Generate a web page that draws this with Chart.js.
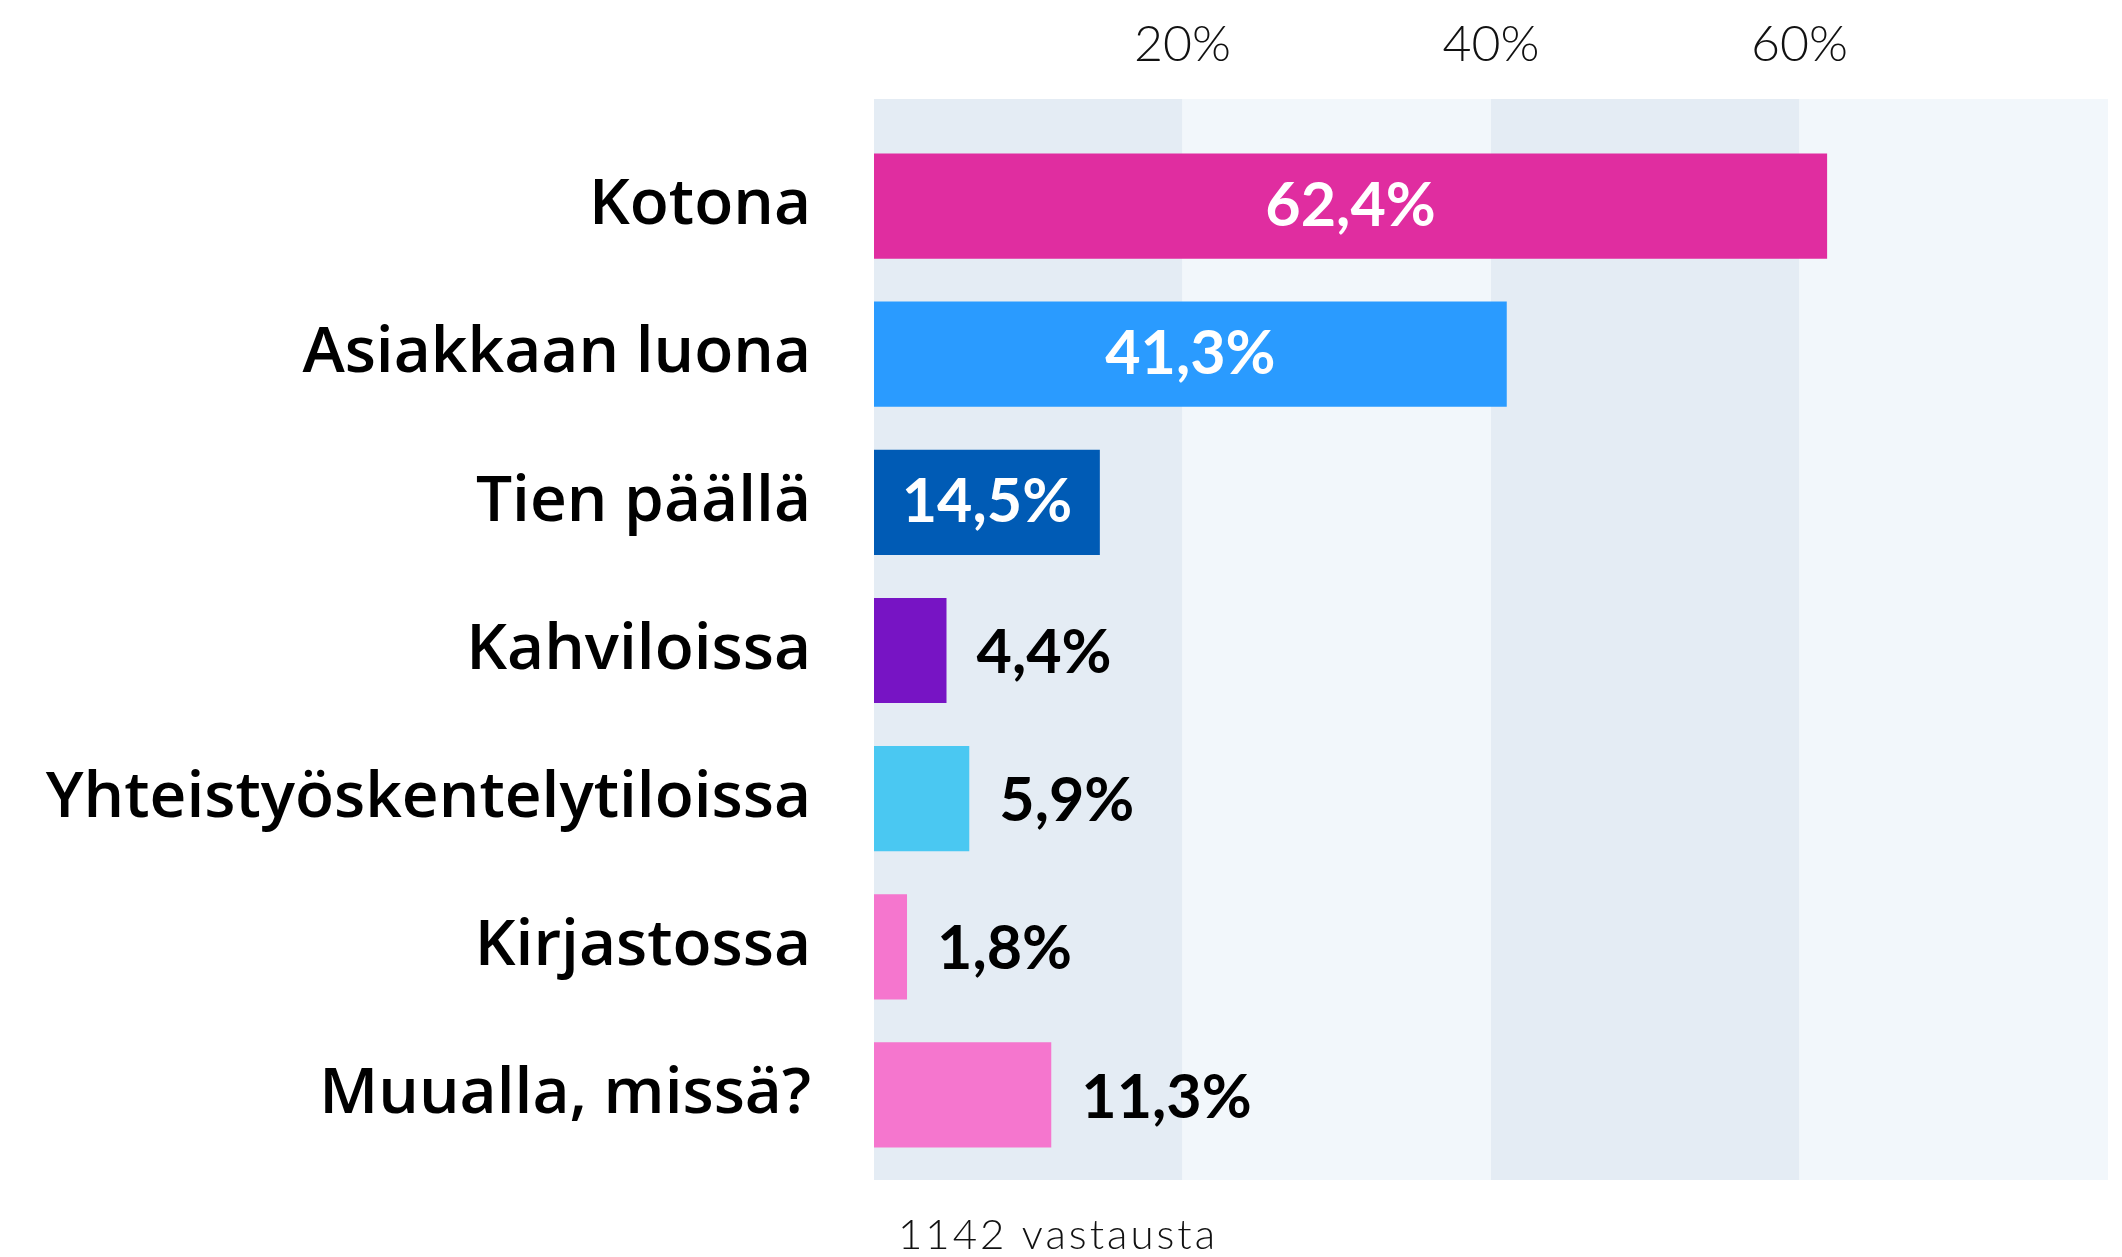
<!DOCTYPE html>
<html>
<head>
<meta charset="utf-8">
<script src="https://cdn.jsdelivr.net/npm/chart.js@4/dist/chart.umd.min.js"></script>
<style>
  html, body { margin: 0; padding: 0; background: #fff; }
  canvas { display: block; }
</style>
</head>
<body>
<canvas id="chart" width="2122" height="1257"></canvas>
<script>
// data
const categories = ['Kotona', 'Asiakkaan luona', 'Tien päällä', 'Kahviloissa', 'Yhteistyöskentelytiloissa', 'Kirjastossa', 'Muualla, missä?'];
const shares = [62.4, 41.3, 14.5, 4.4, 5.9, 1.8, 11.3];
const tickValues = [20, 40, 60];
const axisMax = 80;
const footnote = '1142 vastausta';

// palkit on piirretty alkuperäisessä hieman eri mittakaavassa kuin taustan raidat
const barAxisMin = -0.375;
const barAxisMax = 80.9;

const barColors = ['#e02da0', '#2a9bff', '#005bb5', '#7714c4', '#4ac8f2', '#f576ce', '#f576ce'];
const fmt = v => v.toFixed(1).replace('.', ',') + '%';

// taustan raidat (20 %:n välein)
const bands = {
  id: 'bands',
  beforeDatasetsDraw(chart) {
    const { ctx, chartArea: a, scales: { x } } = chart;
    const top = a.top - 33, bottom = a.bottom + 11;
    ctx.save();
    for (let v = 0; v < axisMax; v += 20) {
      const x0 = x.getPixelForValue(v), x1 = x.getPixelForValue(v + 20);
      ctx.fillStyle = (v / 20) % 2 ? '#f2f7fb' : '#e4ecf4';
      ctx.fillRect(x0, top, x1 - x0, bottom - top);
    }
    ctx.restore();
  }
};

// arvot palkkeihin + alaviite
const valueLabels = {
  id: 'valueLabels',
  afterDatasetsDraw(chart) {
    const { ctx, chartArea: a } = chart;
    const meta = chart.getDatasetMeta(0);
    ctx.save();
    ctx.font = '700 61px Lato';
    ctx.textBaseline = 'middle';
    meta.data.forEach((bar, i) => {
      const v = shares[i];
      if (v > 12) {
        ctx.fillStyle = '#fff';
        ctx.textAlign = 'center';
        ctx.fillText(fmt(v), (bar.base + bar.x) / 2, bar.y);
      } else {
        ctx.fillStyle = '#000';
        ctx.textAlign = 'left';
        ctx.fillText(fmt(v), bar.x + 30, bar.y + 3);
      }
    });
    ctx.font = '300 42px Lato';
    ctx.letterSpacing = '3px';
    ctx.fillStyle = '#111';
    ctx.textAlign = 'left';
    ctx.textBaseline = 'alphabetic';
    ctx.fillText(footnote, a.left + 24, a.bottom + 80);
    ctx.restore();
  }
};

new Chart(document.getElementById('chart'), {
  type: 'bar',
  data: {
    labels: categories,
    datasets: [{ data: shares, backgroundColor: barColors, borderWidth: 0, xAxisID: 'xBar', base: barAxisMin }]
  },
  options: {
    indexAxis: 'y',
    responsive: false,
    animation: false,
    devicePixelRatio: 1,
    layout: { padding: { top: 0, right: 14, bottom: 88, left: 0 } },
    plugins: { legend: { display: false }, tooltip: { enabled: false } },
    datasets: { bar: { categoryPercentage: 1, barPercentage: 0.71 } },
    scales: {
      x: {
        type: 'linear', position: 'top', min: 0, max: axisMax,
        afterBuildTicks: s => { s.ticks = tickValues.map(v => ({ value: v })); },
        afterFit: s => { s.height = 132; },
        grid: { display: false, drawTicks: false },
        border: { display: false },
        ticks: { callback: v => v + '%', color: '#111', padding: 57, font: { family: 'Lato', size: 50, weight: 300 } }
      },
      xBar: {
        type: 'linear', position: 'top', display: false, min: barAxisMin, max: barAxisMax
      },
      y: {
        afterFit: s => { s.width = 874; s.paddingTop = 0; s.paddingBottom = 0; },
        grid: { display: false, drawTicks: false },
        border: { display: false },
        ticks: { color: '#000', padding: 63, font: { family: 'Open Sans', size: 64, weight: 600 } }
      }
    }
  },
  plugins: [bands, valueLabels]
});
</script>
</body>
</html>
